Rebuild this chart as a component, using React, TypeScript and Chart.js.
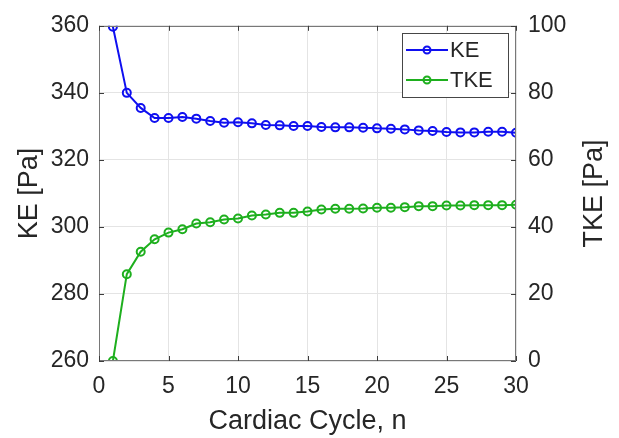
import React, { useEffect, useRef } from "react";
import { Chart, registerables } from "chart.js";

Chart.register(...registerables);

const cycles = [1, 2, 3, 4, 5, 6, 7, 8, 9, 10, 11, 12, 13, 14, 15, 16, 17, 18, 19, 20, 21, 22, 23, 24, 25, 26, 27, 28, 29, 30];
const keValues = [359.7, 340.0, 335.5, 332.5, 332.5, 332.8, 332.3, 331.6, 331.1, 331.2, 330.9, 330.4, 330.3, 330.1, 330.1, 329.8, 329.7, 329.7, 329.6, 329.4, 329.3, 329.1, 328.8, 328.6, 328.3, 328.2, 328.2, 328.4, 328.4, 328.1];
const tkeValues = [0, 25.9, 32.6, 36.3, 38.3, 39.3, 41.0, 41.4, 42.2, 42.5, 43.4, 43.7, 44.2, 44.2, 44.6, 45.2, 45.4, 45.4, 45.5, 45.7, 45.7, 45.9, 46.2, 46.2, 46.4, 46.4, 46.5, 46.5, 46.5, 46.6];
const seriesNames = ["KE", "TKE"];
const xTitle = "Cardiac Cycle, n";
const leftTitle = "KE [Pa]";
const rightTitle = "TKE [Pa]";

const BLUE = "rgb(15,15,240)";
const GREEN = "rgb(30,175,30)";
const AXIS = "rgb(120,120,120)";
const TEXT = "rgb(38,38,38)";
const GRID = "rgb(228,228,228)";
const FONT = "'Liberation Sans', Arial, sans-serif";

const boxPlugin = {
  id: "matlabBox",
  afterDatasetsDraw(chart: any) {
    const { ctx, chartArea: a, scales } = chart;
    ctx.save();
    ctx.strokeStyle = AXIS;
    ctx.lineWidth = 1;
    ctx.strokeRect(Math.round(a.left) + 0.5, Math.round(a.top) + 0.5, Math.round(a.right - a.left) - 1, Math.round(a.bottom - a.top) - 1);
    const tl = 5;
    ctx.strokeStyle = "rgb(60,60,60)";
    ctx.beginPath();
    scales.x.ticks.forEach((t: any) => {
      const px = Math.round(scales.x.getPixelForValue(t.value)) + 0.5;
      ctx.moveTo(px, a.bottom);
      ctx.lineTo(px, a.bottom - tl);
      ctx.moveTo(px, a.top);
      ctx.lineTo(px, a.top + tl);
    });
    scales.y.ticks.forEach((t: any) => {
      const py = Math.round(scales.y.getPixelForValue(t.value)) + 0.5;
      ctx.moveTo(a.left, py);
      ctx.lineTo(a.left + tl, py);
    });
    scales.y2.ticks.forEach((t: any) => {
      const py = Math.round(scales.y2.getPixelForValue(t.value)) + 0.5;
      ctx.moveTo(a.right, py);
      ctx.lineTo(a.right - tl, py);
    });
    ctx.stroke();

    // right axis title (reads bottom to top)
    ctx.save();
    ctx.translate(595, (a.top + a.bottom) / 2);
    ctx.rotate(-Math.PI / 2);
    ctx.fillStyle = TEXT;
    ctx.font = `27px ${FONT}`;
    ctx.textAlign = "center";
    ctx.textBaseline = "middle";
    ctx.fillText(rightTitle, 0, 0);
    ctx.restore();

    // legend
    const bx = 402, by = 33, bw = 106, bh = 64;
    ctx.fillStyle = "#fff";
    ctx.fillRect(bx, by, bw, bh);
    ctx.strokeStyle = "rgb(70,70,70)";
    ctx.lineWidth = 1;
    ctx.strokeRect(bx + 0.5, by + 0.5, bw, bh);
    const colors = [BLUE, GREEN];
    seriesNames.forEach((name, i) => {
      const y = by + 17 + i * 30;
      ctx.strokeStyle = colors[i];
      ctx.lineWidth = 2;
      ctx.beginPath();
      ctx.moveTo(bx + 4, y);
      ctx.lineTo(bx + 46, y);
      ctx.stroke();
      ctx.beginPath();
      ctx.arc(bx + 25, y, 3.5, 0, Math.PI * 2);
      ctx.stroke();
      ctx.fillStyle = TEXT;
      ctx.font = `22px ${FONT}`;
      ctx.textBaseline = "middle";
      ctx.textAlign = "left";
      ctx.fillText(name, bx + 48, y + 1);
    });
    ctx.restore();
  },
};

export default function App() {
  const ref = useRef<HTMLCanvasElement>(null);
  useEffect(() => {
    document.body.style.margin = "0";
    const canvas = ref.current!;
    const tickFont = { family: FONT, size: 23 };
    const titleFont = { family: FONT, size: 27 };
    const chart = new Chart(canvas, {
      type: "line",
      data: {
        datasets: [
          {
            label: seriesNames[0],
            data: cycles.map((c, i) => ({ x: c, y: keValues[i] })),
            borderColor: BLUE,
            backgroundColor: "rgba(0,0,0,0)",
            pointBackgroundColor: "rgba(0,0,0,0)",
            pointBorderColor: BLUE,
            pointBorderWidth: 2,
            pointRadius: 4,
            borderWidth: 2,
            yAxisID: "y",
          },
          {
            label: seriesNames[1],
            data: cycles.map((c, i) => ({ x: c, y: tkeValues[i] })),
            borderColor: GREEN,
            backgroundColor: "rgba(0,0,0,0)",
            pointBackgroundColor: "rgba(0,0,0,0)",
            pointBorderColor: GREEN,
            pointBorderWidth: 2,
            pointRadius: 4,
            borderWidth: 2,
            yAxisID: "y2",
          },
        ],
      },
      options: {
        responsive: false,
        animation: false,
        layout: { padding: { top: 22, left: 0, right: 0, bottom: 0 } },
        plugins: { legend: { display: false }, tooltip: { enabled: false } },
        scales: {
          x: {
            type: "linear",
            min: 0,
            max: 30,
            ticks: { stepSize: 5, font: tickFont, color: TEXT, padding: 12, maxRotation: 0 },
            grid: { color: GRID, drawTicks: false },
            border: { display: false },
            title: { display: true, text: xTitle, font: titleFont, color: TEXT, padding: { top: 0, bottom: 0 } },
            afterFit: (s: any) => { s.height = 77; },
          },
          y: {
            type: "linear",
            position: "left",
            min: 260,
            max: 360,
            ticks: { stepSize: 20, font: tickFont, color: TEXT, padding: 10 },
            grid: { color: GRID, drawTicks: false },
            border: { display: false },
            title: { display: true, text: leftTitle, font: titleFont, color: TEXT, padding: { top: 13, bottom: 0 } },
            afterFit: (s: any) => { s.width = 99; },
          },
          y2: {
            type: "linear",
            position: "right",
            min: 0,
            max: 100,
            ticks: { stepSize: 20, font: tickFont, color: TEXT, padding: 12 },
            grid: { display: false, drawTicks: false },
            border: { display: false },
            title: { display: false },
            afterFit: (s: any) => { s.width = 103; },
          },
        },
      },
      plugins: [boxPlugin],
    } as any);
    return () => chart.destroy();
  }, []);
  return (
    <div style={{ width: 619, height: 438, background: "#fff" }}>
      <canvas ref={ref} width={619} height={438} style={{ display: "block" }} />
    </div>
  );
}
